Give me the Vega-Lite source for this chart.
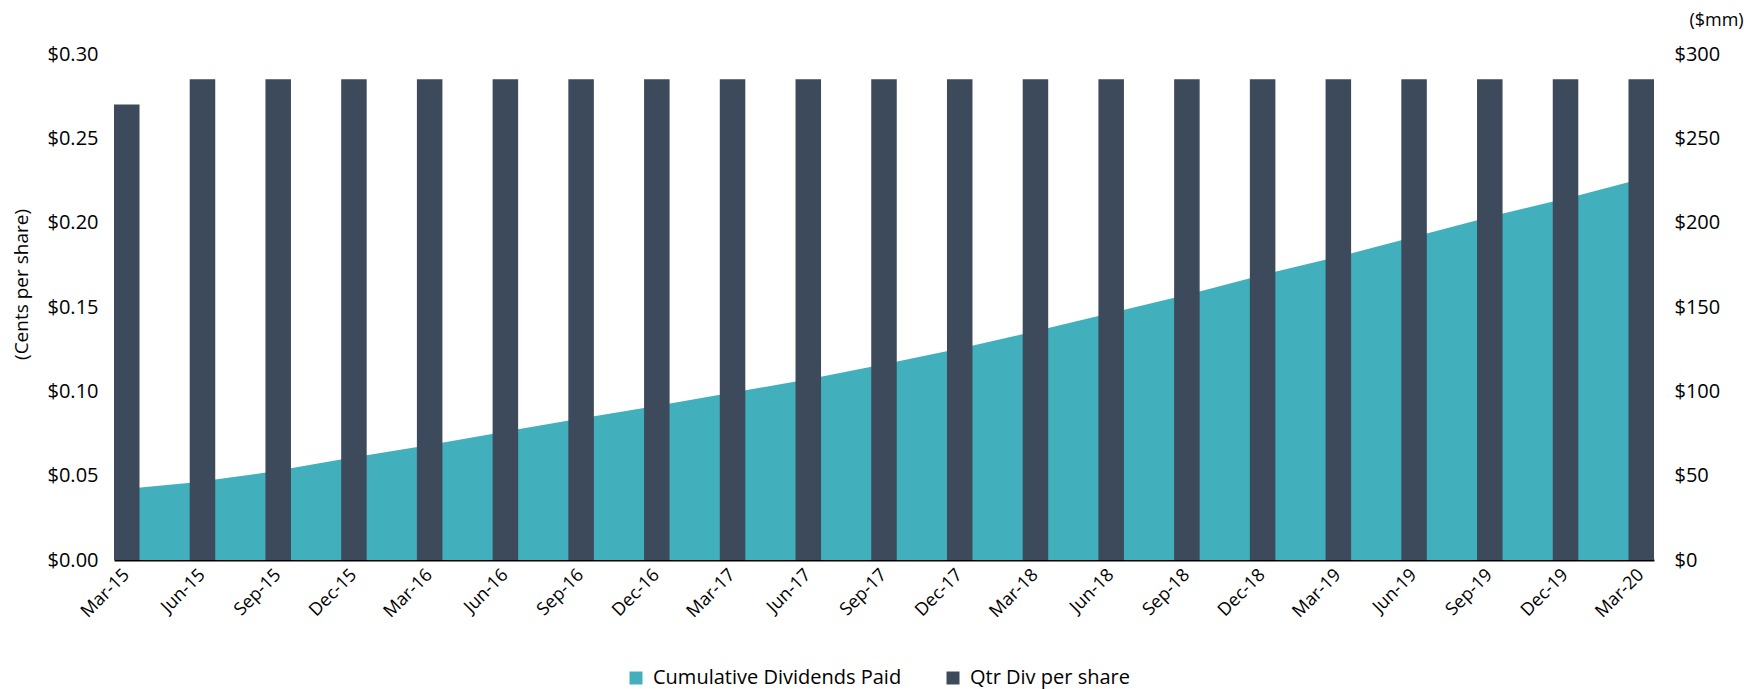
{
  "$schema": "https://vega.github.io/schema/vega-lite/v6.json",
  "width": 1540,
  "height": 506,
  "autosize": {"type": "none"},
  "padding": {"left": 114, "top": 54, "right": 90, "bottom": 129},
  "background": "white",
  "config": {
    "view": {"stroke": null},
    "font": "Open Sans",
    "axis": {"grid": false, "ticks": false, "labelFont": "Open Sans", "titleFont": "Open Sans", "labelColor": "#000000", "titleColor": "#000000", "titleFontWeight": "normal"},
    "legend": {"labelFont": "Open Sans", "labelColor": "#000000"}
  },
  "data": {"values": [
    {"q": "Mar-15", "div": 0.27, "cum": 41.5},
    {"q": "Jun-15", "div": 0.285, "cum": 45.8},
    {"q": "Sep-15", "div": 0.285, "cum": 52},
    {"q": "Dec-15", "div": 0.285, "cum": 60},
    {"q": "Mar-16", "div": 0.285, "cum": 67.5},
    {"q": "Jun-16", "div": 0.285, "cum": 75.5},
    {"q": "Sep-16", "div": 0.285, "cum": 83.5},
    {"q": "Dec-16", "div": 0.285, "cum": 91},
    {"q": "Mar-17", "div": 0.285, "cum": 99},
    {"q": "Jun-17", "div": 0.285, "cum": 107},
    {"q": "Sep-17", "div": 0.285, "cum": 116},
    {"q": "Dec-17", "div": 0.285, "cum": 125.5},
    {"q": "Mar-18", "div": 0.285, "cum": 136},
    {"q": "Jun-18", "div": 0.285, "cum": 147},
    {"q": "Sep-18", "div": 0.285, "cum": 158},
    {"q": "Dec-18", "div": 0.285, "cum": 170},
    {"q": "Mar-19", "div": 0.285, "cum": 181},
    {"q": "Jun-19", "div": 0.285, "cum": 193},
    {"q": "Sep-19", "div": 0.285, "cum": 205},
    {"q": "Dec-19", "div": 0.285, "cum": 216},
    {"q": "Mar-20", "div": 0.285, "cum": 228}
  ]},
  "layer": [
    {
      "mark": {"type": "area", "interpolate": "linear"},
      "encoding": {
        "x": {"field": "q", "type": "ordinal", "sort": null, "scale": {"type": "point", "padding": 0}, "axis": null},
        "y": {"field": "cum", "type": "quantitative", "scale": {"domain": [0, 300]},
          "axis": {"orient": "right", "values": [0, 50, 100, 150, 200, 250, 300], "format": "$,.0f", "domain": false, "labelFontSize": 20, "labelPadding": 20,
            "title": "($mm)", "titleAngle": 0, "titleX": 62, "titleY": -34, "titleAlign": "center", "titleBaseline": "middle", "titleFontSize": 18}},
        "color": {"datum": "Cumulative Dividends Paid", "type": "nominal",
          "scale": {"domain": ["Cumulative Dividends Paid", "Qtr Div per share"], "range": ["#41B0BC", "#3D4A5B"]},
          "legend": {"orient": "none", "legendX": 512, "legendY": 614, "direction": "horizontal", "title": null, "symbolType": "square", "symbolSize": 169, "labelFontSize": 20, "labelOffset": 7, "labelLimit": 400, "columnPadding": 41, "padding": 0}}
      }
    },
    {
      "mark": {"type": "bar"},
      "encoding": {
        "x": {"field": "q", "type": "ordinal", "sort": null, "scale": {"type": "band", "paddingInner": 0.663, "paddingOuter": 0},
          "axis": {"title": null, "labelAngle": -45, "labelAlign": "right", "labelBaseline": "middle", "labelFontSize": 18, "labelPadding": 12, "domainColor": "#000000", "domainWidth": 2}},
        "y": {"field": "div", "type": "quantitative", "scale": {"domain": [0, 0.3]},
          "axis": {"orient": "left", "values": [0, 0.05, 0.1, 0.15, 0.2, 0.25, 0.3], "format": "$.2f", "domain": false, "labelFontSize": 20, "labelPadding": 16,
            "title": "(Cents per share)", "titleFontSize": 19, "titleX": -93, "titleY": 230, "titleAngle": -90, "titleAlign": "center", "titleBaseline": "middle"}},
        "color": {"datum": "Qtr Div per share", "type": "nominal"}
      }
    }
  ],
  "resolve": {"scale": {"x": "independent", "y": "independent"}}
}
